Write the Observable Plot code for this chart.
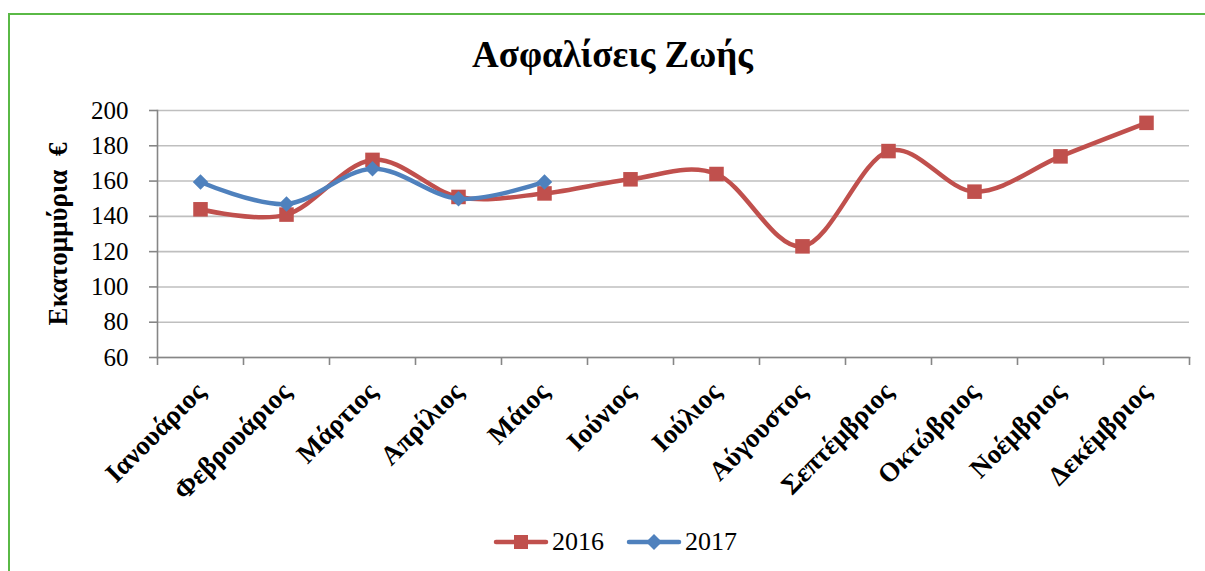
<!DOCTYPE html>
<html>
<head>
<meta charset="utf-8">
<script src="https://cdn.jsdelivr.net/npm/d3@7"></script>
<script src="https://cdn.jsdelivr.net/npm/@observablehq/plot@0.6"></script>
<style>
  body { margin: 0; background: #fff; }
  #wrap { position: relative; width: 1205px; height: 571px; overflow: hidden; font-family: "Liberation Serif", "Times New Roman", serif; }
  #border { position: absolute; left: 8px; top: 13px; width: 1300px; height: 700px; border-left: 2px solid #5ab946; border-top: 2px solid #5ab946; }
  #title { position: absolute; left: 0; width: 1225px; top: 33px; text-align: center; font-weight: bold; font-size: 37px; color: #000; }
  #chart { position: absolute; left: 0; top: 0; }
  #legend { position: absolute; top: 527px; left: 493px; font-size: 26px; display: flex; align-items: center; }
  .item { display: flex; align-items: center; margin-right: 22px; }
  .item svg { margin-right: 3px; }
</style>
</head>
<body>
<div id="wrap">
  <div id="border"></div>
  <div id="chart"></div>
  <div id="title"></div>
  <div id="legend"></div>
</div>
<script>
const titleText = "Ασφαλίσεις Ζωής";
const yLabel = "Εκατομμύρια  €";
const months = ["Ιανουάριος","Φεβρουάριος","Μάρτιος","Απρίλιος","Μάιος","Ιούνιος","Ιούλιος","Αύγουστος","Σεπτέμβριος","Οκτώβριος","Νοέμβριος","Δεκέμβριος"];
const values2016 = [144, 141, 172, 151, 153, 161, 164, 123, 177, 154, 174, 193];
const values2017 = [159.5, 147, 167, 150, 159.5];
const yTicks = [60, 80, 100, 120, 140, 160, 180, 200];
const seriesNames = ["2016", "2017"];
const colors = {"2016": "#c0504d", "2017": "#4f81bd"};

const d2016 = values2016.map((v, i) => ({i, v}));
const d2017 = values2017.map((v, i) => ({i, v}));
const boundaries = d3.range(months.length + 1).map(k => k - 0.5);

document.getElementById("title").textContent = titleText;

const chart = Plot.plot({
  width: 1205,
  height: 571,
  marginTop: 110,
  marginBottom: 214,
  marginLeft: 157,
  marginRight: 16,
  style: {fontFamily: "'Liberation Serif', 'Times New Roman', serif", color: "#000", background: "transparent"},
  x: {domain: [-0.5, months.length - 0.5]},
  y: {domain: [60, 200]},
  marks: [
    Plot.gridY(yTicks, {stroke: "#bfbfbf", strokeOpacity: 1, strokeWidth: 1.6}),
    Plot.frame({anchor: "left", stroke: "#868686", strokeWidth: 1.6}),
    Plot.frame({anchor: "bottom", stroke: "#868686", strokeWidth: 1.6}),
    Plot.axisY(yTicks, {tickSize: 8, tickPadding: 21, stroke: "#868686", strokeWidth: 1.6, fontSize: 25, label: null}),
    Plot.axisX(boundaries, {tickSize: 8, stroke: "#868686", strokeWidth: 1.6, tickFormat: () => "", label: null}),
    Plot.axisX(d3.range(months.length), {tickSize: 0, tickRotate: -45, tickFormat: i => months[i], fontSize: 27, fontWeight: "bold", label: null, dx: 0, dy: 18}),
    Plot.text([yLabel], {frameAnchor: "left", textAnchor: "middle", dx: -99, rotate: -90, fontSize: 27, fontWeight: "bold", text: d => d}),
    Plot.line(d2016, {x: "i", y: "v", stroke: colors["2016"], strokeWidth: 4.5, curve: "cardinal"}),
    Plot.dot(d2016, {x: "i", y: "v", symbol: "square", r: 8.2, fill: colors["2016"]}),
    Plot.line(d2017, {x: "i", y: "v", stroke: colors["2017"], strokeWidth: 4.5, curve: "cardinal"}),
    Plot.dot(d2017, {x: "i", y: "v", symbol: "diamond2", r: 7, fill: colors["2017"]})
  ]
});
document.getElementById("chart").appendChild(chart);

// legend
const legend = document.getElementById("legend");
seriesNames.forEach(name => {
  const item = document.createElement("div");
  item.className = "item";
  const ns = "http://www.w3.org/2000/svg";
  const s = document.createElementNS(ns, "svg");
  s.setAttribute("width", 56); s.setAttribute("height", 20);
  const l = document.createElementNS(ns, "line");
  l.setAttribute("x1", 3); l.setAttribute("x2", 53); l.setAttribute("y1", 10); l.setAttribute("y2", 10);
  l.setAttribute("stroke", colors[name]); l.setAttribute("stroke-width", 4.5); l.setAttribute("stroke-linecap", "round");
  s.appendChild(l);
  if (name === "2016") {
    const r = document.createElementNS(ns, "rect");
    r.setAttribute("x", 21); r.setAttribute("y", 3); r.setAttribute("width", 14); r.setAttribute("height", 14);
    r.setAttribute("fill", colors[name]); s.appendChild(r);
  } else {
    const p = document.createElementNS(ns, "polygon");
    p.setAttribute("points", "28,2 36,10 28,18 20,10");
    p.setAttribute("fill", colors[name]); s.appendChild(p);
  }
  item.appendChild(s);
  const t = document.createElement("span");
  t.textContent = name;
  item.appendChild(t);
  legend.appendChild(item);
});
</script>
</body>
</html>
